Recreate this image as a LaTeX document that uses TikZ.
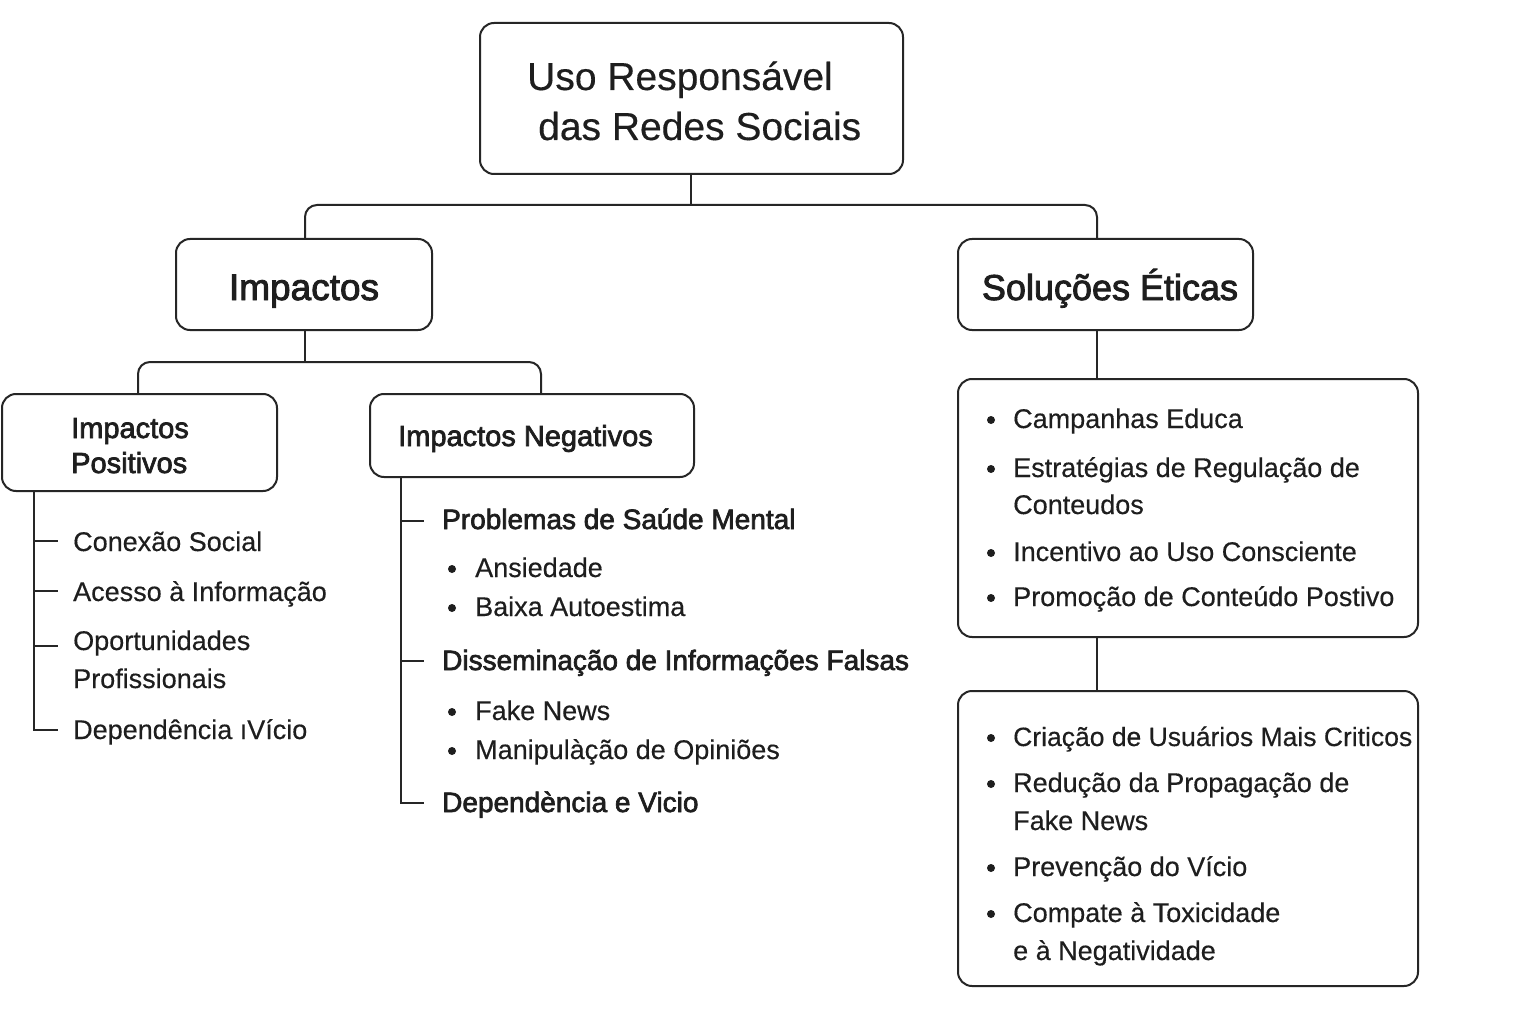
\documentclass[tikz,border=0pt]{standalone}
\usepackage{fontspec}
\setmainfont{Liberation Sans}[FakeBold=0.35]
\newfontface\medf{Liberation Sans}[FakeBold=2.4]
\usetikzlibrary{calc}
\definecolor{ink}{HTML}{1E1E1E}
\definecolor{lineink}{HTML}{262626}
\tikzset{
  box/.style={draw=lineink, line width=2pt, rounded corners=14pt, fill=white, inner sep=0pt},
  conn/.style={draw=lineink, line width=2pt},
  txt/.style={anchor=base west, inner sep=0pt, text=ink, font=\fontsize{27}{32}\selectfont},
  hd/.style={anchor=base west, inner sep=0pt, text=ink, font=\medf\fontsize{28}{32}\selectfont},
  dot/.style={circle, fill=ink, inner sep=0pt, minimum size=8pt},
}
\begin{document}
\begin{tikzpicture}[x=1pt,y=-1pt]
\useasboundingbox[fill=white] (0,0) rectangle (1536,1024);

% ---- boxes ----
\node[box, minimum width=423pt, minimum height=151pt] (root) at (691.5,98.5) {};
\node[box, minimum width=256pt, minimum height=91pt] (imp) at (304,284.5) {};
\node[box, minimum width=295pt, minimum height=91pt] (sol) at (1105.5,284.5) {};
\node[box, minimum width=275pt, minimum height=97pt] (pos) at (139.5,442.5) {};
\node[box, minimum width=324pt, minimum height=83pt] (neg) at (532,435.5) {};
\node[box, minimum width=460pt, minimum height=258pt] (s1) at (1188,508) {};
\node[box, minimum width=460pt, minimum height=295pt] (s2) at (1188,838.5) {};

% ---- box texts ----
\node[txt, font=\fontsize{39}{44}\selectfont] (rt1) at (527,90) {Uso Responsável};
\node[txt, font=\fontsize{39}{44}\selectfont] (rt2) at (538,140) {das Redes Sociais};
\node[anchor=base, inner sep=0pt, text=ink, font=\medf\fontsize{37}{40}\selectfont] (impt) at (304,300) {Impactos};
\node[anchor=base, inner sep=0pt, text=ink, font=\medf\fontsize{36}{40}\selectfont] (solt) at (1110,300) {Soluções Éticas};
\node[hd, font=\medf\fontsize{29}{32}\selectfont] (post1) at (71,438) {Impactos};
\node[hd, font=\medf\fontsize{29}{32}\selectfont] (post2) at (71,473) {Positivos};
\node[hd, font=\medf\fontsize{29}{32}\selectfont] (negt) at (398,446) {Impactos Negativos};

% ---- tree connectors ----
\coordinate (j1) at (691,205);
\coordinate (sx) at (1097,0);
\coordinate (j2) at (305,362);
\coordinate (nx) at (541,0);
\coordinate (px) at (138,0);
\draw[conn] (root.south -| j1) -- (j1);
\draw[conn, rounded corners=12pt] (imp.north -| j2) |- (j1) -| (sol.north -| sx);
\draw[conn] (imp.south -| j2) -- (j2);
\draw[conn, rounded corners=12pt] (pos.north -| px) |- (j2) -| (neg.north -| nx);
\draw[conn] (sol.south -| sx) -- (s1.north -| sx);
\draw[conn] (s1.south -| sx) -- (s2.north -| sx);

% ---- positive list ----
\node[txt] (p1) at (73,551) {Conexão Social};
\node[txt] (p2) at (73,601) {Acesso à Informação};
\node[txt] (p3) at (73,650) {Oportunidades};
\node[txt] (p3b) at (73,688) {Profissionais};
\node[txt] (p4) at (73,739) {Dependência ıVício};
\coordinate (pt) at (34,0);
\draw[conn] (pos.south -| pt) |- ($(p4.base west)+(-15,-9)$);
\draw[conn] ($(p1.base west)+(-39,-10)$) -- ++(24,0);
\draw[conn] ($(p2.base west)+(-39,-10)$) -- ++(24,0);
\draw[conn] ($(p3.base west)+(-39,-4)$) -- ++(24,0);

% ---- negative list ----
\node[hd] (n1) at (442,529) {Problemas de Saúde Mental};
\node[txt] (n1a) at (475,577) {Ansiedade};
\node[txt] (n1b) at (475,616) {Baixa Autoestima};
\node[hd] (n2) at (442,670) {Disseminação de Informações Falsas};
\node[txt] (n2a) at (475,720) {Fake News};
\node[txt] (n2b) at (475,759) {Manipulàção de Opiniões};
\node[hd] (n3) at (442,812) {Dependència e Vicio};
\coordinate (nt) at (401,0);
\draw[conn] (neg.south -| nt) |- ($(n3.base west)+(-18,-9)$);
\draw[conn] ($(n1.base west)+(-41,-8)$) -- ++(23,0);
\draw[conn] ($(n2.base west)+(-41,-9)$) -- ++(23,0);
\node[dot] (d1) at (452,569) {};
\node[dot] (d2) at (452,608) {};
\node[dot] (d3) at (452,712) {};
\node[dot] (d4) at (452,751) {};

% ---- solutions box 1 ----
\node[txt] (a1) at (1013,428) {Campanhas Educa};
\node[txt] (a2) at (1013,477) {Estratégias de Regulação de};
\node[txt] (a2b) at (1013,514) {Conteudos};
\node[txt] (a3) at (1013,561) {Incentivo ao Uso Consciente};
\node[txt] (a4) at (1013,606) {Promoção de Conteúdo Postivo};
\node[dot] (e1) at (991,420) {};
\node[dot] (e2) at (991,469) {};
\node[dot] (e3) at (991,553) {};
\node[dot] (e4) at (991,598) {};

% ---- solutions box 2 ----
\node[txt, font=\fontsize{26.5}{32}\selectfont] (c1) at (1013,746) {Criação de Usuários Mais Criticos};
\node[txt] (c2) at (1013,792) {Redução da Propagação de};
\node[txt] (c2b) at (1013,830) {Fake News};
\node[txt] (c3) at (1013,876) {Prevenção do Vício};
\node[txt] (c4) at (1013,922) {Compate à Toxicidade};
\node[txt] (c4b) at (1013,960) {e à Negatividade};
\node[dot] (f1) at (991,738) {};
\node[dot] (f2) at (991,784) {};
\node[dot] (f3) at (991,868) {};
\node[dot] (f4) at (991,914) {};
\end{tikzpicture}
\end{document}
